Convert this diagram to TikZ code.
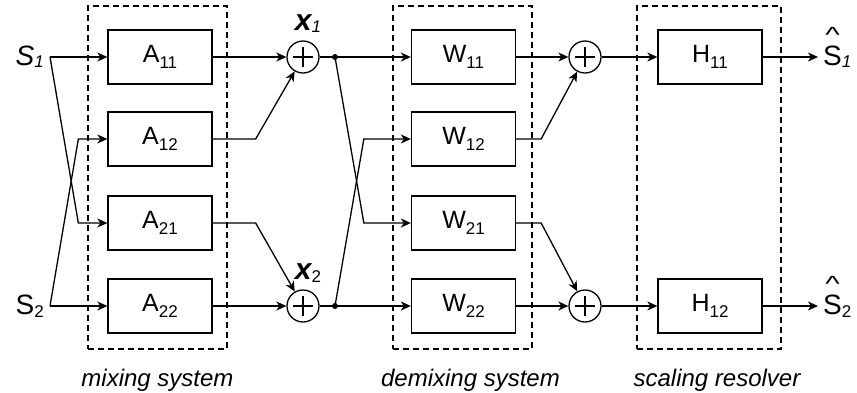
\documentclass[tikz,border=0pt]{standalone}
\usepackage{fontspec}
\setmainfont{Liberation Sans}
\usetikzlibrary{arrows.meta,positioning}
\newcommand*\sub[2][-6.5pt]{\raisebox{#1}{\fontsize{17}{17}\selectfont #2}}
\newcommand*\hatS[1]{\setbox0\hbox{S}\rlap{\hbox to \wd0{\hss\raisebox{23pt}{\fontsize{22}{22}\selectfont\scalebox{1.4}[1]{\char"5E}}\hss}}S#1}
\begin{document}
\begin{tikzpicture}[x=1pt,y=-1pt,
	blk/.style={draw,line width=1.3pt,minimum width=104pt,minimum height=54pt,inner sep=0pt,font=\fontsize{25}{29}\selectfont},
	sum/.style={circle,draw,line width=1.3pt,minimum size=32pt,inner sep=0pt,
		path picture={\draw[line width=1.3pt] ([xshift=-10pt]path picture bounding box.center) -- ([xshift=10pt]path picture bounding box.center)
			([yshift=-10pt]path picture bounding box.center) -- ([yshift=10pt]path picture bounding box.center);}},
	dot/.style={circle,fill,inner sep=0pt,minimum size=6pt},
	grp/.style={draw,dash pattern=on 6pt off 4pt,line width=1.3pt,inner sep=0pt,minimum height=343pt},
	sig/.style={inner xsep=6pt,inner ysep=0pt,font=\fontsize{28}{32}\selectfont},
	xlab/.style={inner sep=0pt,font=\fontsize{30}{34}\selectfont\bfseries\itshape},
	grplab/.style={inner sep=0pt,font=\fontsize{24}{28}\selectfont\itshape},
	arr/.style={line width=1.3pt,-{Stealth[length=10pt,width=9pt,inset=3pt]}}]
	\useasboundingbox (0,0) rectangle (857,392);
	\node[grp,minimum width=139pt] (mix) at (157.5,177.5) {};
	\node[grp,minimum width=139pt] (demix) at (462.5,177.5) {};
	\node[grp,minimum width=144pt] (scal) at (709,177.5) {};
	\node[grplab,below=19pt of mix] (mixlab) {mixing system};
	\node[grplab,below=19pt of demix,xshift=8pt] (demixlab) {demixing system};
	\node[grplab,below=19pt of scal,xshift=8pt] (scallab) {scaling resolver};
	\node[sig,anchor=east] (s1) at (50,57) {\textit{S}\sub[-2pt]{\textit{1}}};
	\node[sig,anchor=east] (s2) at (50,306) {S\sub[-3pt]{2}};
	\node[blk] (a11) at (160,57) {A\sub{11}};
	\node[blk] (a12) at (160,139) {A\sub{12}};
	\node[blk] (a21) at (160,223) {A\sub{21}};
	\node[blk] (a22) at (160,306) {A\sub{22}};
	\node[sum] (x1) at (303,57) {};
	\node[sum] (x2) at (303,306) {};
	\node[xlab,above=8pt of x1,xshift=5pt] (x1lab) {x\sub[-2pt]{\mdseries\itshape 1}};
	\node[xlab,above=7pt of x2,xshift=5pt] (x2lab) {x\sub[-3pt]{\mdseries\upshape 2}};
	\node[dot] (d1) at (335,57) {};
	\node[dot] (d2) at (335,306) {};
	\node[blk] (w11) at (463.5,57) {W\sub{11}};
	\node[blk] (w12) at (463.5,139) {W\sub{12}};
	\node[blk] (w21) at (463.5,223) {W\sub{21}};
	\node[blk] (w22) at (463.5,306) {W\sub{22}};
	\node[sum] (y1) at (585,57) {};
	\node[sum] (y2) at (585,306) {};
	\node[blk] (h11) at (710,57) {H\sub{11}};
	\node[blk] (h12) at (710,306) {H\sub{12}};
	\node[sig,anchor=base west,inner xsep=5pt] (o1) at (818,65) {\hatS{\sub[-2pt]{\textit{1}}}};
	\node[sig,anchor=base west,inner xsep=5pt] (o2) at (818,314) {\hatS{\sub[-3pt]{2}}};
	\draw[arr] (s1.east) -- (a11.west);
	\draw[arr] (s1.east) -- ([xshift=-29pt]a21.west) -- (a21.west);
	\draw[arr] (s2.east) -- (a22.west);
	\draw[arr] (s2.east) -- ([xshift=-29pt]a12.west) -- (a12.west);
	\draw[arr] (a11.east) -- (x1.west);
	\draw[arr] (a12.east) -- ([xshift=43pt]a12.east) -- (x1);
	\draw[arr] (a21.east) -- ([xshift=43pt]a21.east) -- (x2);
	\draw[arr] (a22.east) -- (x2.west);
	\draw[arr] (x1.east) -- (w11.west);
	\draw[arr] (x2.east) -- (w22.west);
	\draw[arr] (d1.center) -- ([xshift=-47pt]w21.west) -- (w21.west);
	\draw[arr] (d2.center) -- ([xshift=-47pt]w12.west) -- (w12.west);
	\draw[arr] (w11.east) -- (y1.west);
	\draw[arr] (w12.east) -- ([xshift=25pt]w12.east) -- (y1);
	\draw[arr] (w21.east) -- ([xshift=25pt]w21.east) -- (y2);
	\draw[arr] (w22.east) -- (y2.west);
	\draw[arr] (y1.east) -- (h11.west);
	\draw[arr] (y2.east) -- (h12.west);
	\draw[arr] (h11.east) -- (h11.east -| o1.west);
	\draw[arr] (h12.east) -- (h12.east -| o2.west);
\end{tikzpicture}
\end{document}
